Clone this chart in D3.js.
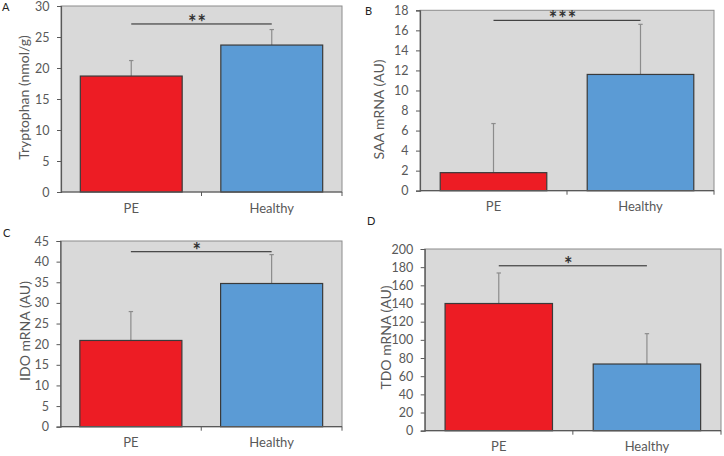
<!DOCTYPE html>
<html>
<head>
<meta charset="utf-8">
<script src="https://cdn.jsdelivr.net/npm/d3@7/dist/d3.min.js"></script>
<style>
  html, body { margin: 0; padding: 0; background: #fff; }
  svg { display: block; font-family: Lato, "Open Sans", sans-serif; }
</style>
</head>
<body>
<svg id="chart" width="724" height="456"></svg>
<script>
// ---- data ----
const categories = ["PE", "Healthy"];
const tryptophanMean = [18.7, 23.7];
const tryptophanErr = [2.5, 2.5];
const saaMean = [1.8, 11.6];
const saaErr = [4.9, 5.0];
const idoMean = [20.9, 34.7];
const idoErr = [7.0, 7.0];
const tdoMean = [140, 73.4];
const tdoErr = [33.6, 33.4];
const panelLetters = ["A", "B", "C", "D"];
const yLabels = ["Tryptophan (nmol/g)", "SAA mRNA (AU)", "IDO mRNA (AU)", "TDO mRNA (AU)"];
const yMax = [30, 18, 45, 200];
const yStep = [5, 2, 5, 20];
const sigLabels = ["**", "***", "*", "*"];
const sigLevel = [27.1, 17.0, 42.4, 181.5];

// ---- layout (positions only) ----
const layouts = [
  {left: 61, right: 342, top: 6, bottom: 192, letter: [2, 11], labelX: 29, labelY: 97.5},
  {left: 420, right: 714, top: 10.3, bottom: 190.7, letter: [365, 15], labelX: 384, labelY: 109.5},
  {left: 60.5, right: 342, top: 241, bottom: 426.7, letter: [3, 237], labelX: 29.5, labelY: 331},
  {left: 424.7, right: 721, top: 249, bottom: 430.7, letter: [367, 225], labelX: 391, labelY: 337.5}
];

const panels = [
  {mean: tryptophanMean, err: tryptophanErr},
  {mean: saaMean, err: saaErr},
  {mean: idoMean, err: idoErr},
  {mean: tdoMean, err: tdoErr}
];

const colors = ["#ED1C24", "#5B9BD5"];
const svg = d3.select("#chart");

panels.forEach((p, i) => {
  const L = layouts[i];
  const g = svg.append("g");

  const x = d3.scaleBand().domain(categories).range([L.left, L.right]);
  const y = d3.scaleLinear().domain([0, yMax[i]]).range([L.bottom, L.top]);
  const barW = x.bandwidth() * 0.725;

  // background
  g.append("rect")
    .attr("x", L.left).attr("y", L.top)
    .attr("width", L.right - L.left).attr("height", L.bottom - L.top)
    .attr("fill", "#D9D9D9")
    .attr("stroke", "#8C8C8C").attr("stroke-width", 1);

  // error bars (upper only)
  const eb = g.append("g");
  categories.forEach((c, k) => {
    const cx = x(c) + x.bandwidth() / 2;
    const yTop = y(p.mean[k] + p.err[k]);
    eb.append("line").attr("x1", cx).attr("x2", cx)
      .attr("y1", y(p.mean[k])).attr("y2", yTop)
      .attr("stroke", "#8C8C8C").attr("stroke-width", 1.2);
    eb.append("line").attr("x1", cx - 2.2).attr("x2", cx + 2.2)
      .attr("y1", yTop).attr("y2", yTop)
      .attr("stroke", "#8C8C8C").attr("stroke-width", 1.2);
  });

  // bars
  g.selectAll("rect.bar").data(categories).enter().append("rect")
    .attr("class", "bar")
    .attr("x", c => x(c) + (x.bandwidth() - barW) / 2)
    .attr("width", barW)
    .attr("y", (c, k) => y(p.mean[k]))
    .attr("height", (c, k) => y(0) - y(p.mean[k]))
    .attr("fill", (c, k) => colors[k])
    .attr("stroke", "#3A3A3A").attr("stroke-width", 1.2);

  // y axis
  const yAxis = d3.axisLeft(y).tickValues(d3.range(0, yMax[i] + yStep[i] / 2, yStep[i]))
    .tickSize(4).tickPadding(7.5).tickFormat(d3.format("d"));
  const ya = g.append("g").attr("transform", `translate(${L.left},0)`).call(yAxis);
  ya.select(".domain").attr("stroke", "#595959").attr("stroke-width", 1.2);
  ya.selectAll(".tick line").attr("stroke", "#595959");
  ya.selectAll(".tick text").attr("fill", "#595959").style("font-size", "12.5px")
    .style("font-family", "Lato, sans-serif");

  // x axis: category labels + boundary ticks
  const xa = g.append("g").attr("transform", `translate(0,${L.bottom})`);
  xa.append("line").attr("x1", L.left).attr("x2", L.right).attr("y1", 0).attr("y2", 0)
    .attr("stroke", "#595959").attr("stroke-width", 1.2);
  const bounds = categories.map(c => x(c)).concat([x(categories[categories.length - 1]) + x.bandwidth()]).slice(1);
  bounds.forEach(b => {
    xa.append("line").attr("x1", b).attr("x2", b).attr("y1", 0).attr("y2", 4)
      .attr("stroke", "#595959").attr("stroke-width", 1);
  });
  categories.forEach(c => {
    xa.append("text").attr("x", x(c) + x.bandwidth() / 2).attr("y", 20.5)
      .attr("text-anchor", "middle").attr("fill", "#595959")
      .style("font-size", "13px").text(c);
  });

  // y label
  g.append("text")
    .attr("transform", `translate(${L.labelX},${L.labelY}) rotate(-90)`)
    .attr("text-anchor", "middle").attr("fill", "#595959")
    .style("font-size", "14px").text(yLabels[i]);

  // panel letter
  g.append("text").attr("x", L.letter[0]).attr("y", L.letter[1])
    .attr("fill", "#222").style("font-size", "11px").text(panelLetters[i]);

  // significance line + stars
  const x1 = x(categories[0]) + x.bandwidth() / 2;
  const x2 = x(categories[1]) + x.bandwidth() / 2;
  g.append("line").attr("x1", x1).attr("x2", x2)
    .attr("y1", y(sigLevel[i])).attr("y2", y(sigLevel[i]))
    .attr("stroke", "#222").attr("stroke-width", 1);
  g.append("text").attr("x", (x1 + x2) / 2 - 4).attr("y", y(sigLevel[i]) + 6)
    .attr("text-anchor", "middle").attr("fill", "#333")
    .style("font-size", "20px").style("font-weight", "bold")
    .style("letter-spacing", "1px")
    .text(sigLabels[i]);
});
</script>
</body>
</html>
